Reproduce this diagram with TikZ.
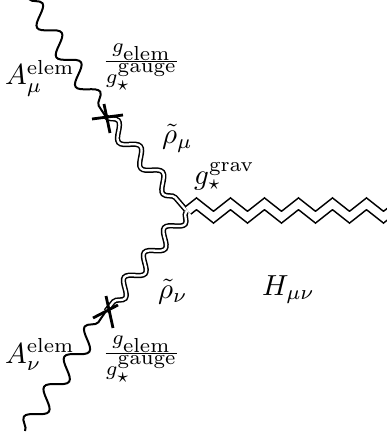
\documentclass[tikz,border=0pt]{standalone}
\usepackage{graphicx}
\DeclareMathSizes{10}{10}{7}{7}
\usetikzlibrary{decorations.pathmorphing}
\newcommand\biglab[1]{\scalebox{2.9}{$#1$}}
\begin{document}
\begin{tikzpicture}[x=1pt,y=-1pt,
  lbl/.style={inner sep=0pt, anchor=base west},
  photon/.style={line width=2pt, decorate, decoration={snake, amplitude=9pt, segment length=#1}},
  dphoton/.style={line width=1.5pt, double distance=2.3pt, decorate, decoration={snake, amplitude=7pt, segment length=#1}},
  grav/.style={line width=1.6pt, double distance=7.5pt, decorate, decoration={zigzag, amplitude=6.7pt, segment length=34pt}},
  crossbar/.style={line width=2.8pt}]
\useasboundingbox (0,0) rectangle (387,438);
\coordinate (t) at (29,-1);
\coordinate (c1) at (106,117);
\coordinate (v) at (186,210);
\coordinate (v2) at (186,212);
\coordinate (c2) at (106,311);
\coordinate (b) at (25,431);
\coordinate (r) at (395,210.5);
\coordinate (v3) at (188,210.5);
% lines
\draw[photon=35.2pt] (t) -- (c1);
\draw[photon=36.2pt] (b) -- (c2);
\draw[dphoton=34pt] (c1) -- (v);
\draw[dphoton=31.8pt] (v2) -- (c2);
\draw[grav] (v3) -- (r);
% crosses
\draw[crossbar] ([shift={(-14,2)}]c1) -- ([shift={(17,-2)}]c1);
\draw[crossbar] ([shift={(-2,-13)}]c1) -- ([shift={(4,16)}]c1);
\draw[crossbar] ([shift={(-13,7)}]c2) -- ([shift={(12,-6)}]c2);
\draw[crossbar] ([shift={(0,-15)}]c2) -- ([shift={(7,17)}]c2);
% labels
\node[lbl] (Amu) at (5,85) {\biglab{A^{\mathrm{elem}}_{\mu}}};
\node[lbl] (f1) at (102,69) {\biglab{\frac{g_{\mathrm{elem}}}{g_\star^{\mathrm{gauge}}}}};
\node[lbl] (rmu) at (162,144) {\biglab{\tilde\rho_\mu}};
\node[lbl] (gg) at (194,185) {\biglab{g_\star^{\mathrm{grav}}}};
\node[lbl] (rnu) at (158,298) {\biglab{\tilde\rho_\nu}};
\node[lbl] (H) at (262,295) {\biglab{H_{\mu\nu}}};
\node[lbl] (Anu) at (5,363) {\biglab{A^{\mathrm{elem}}_{\nu}}};
\node[lbl] (f2) at (102,361) {\biglab{\frac{g_{\mathrm{elem}}}{g_\star^{\mathrm{gauge}}}}};
\end{tikzpicture}
\end{document}
